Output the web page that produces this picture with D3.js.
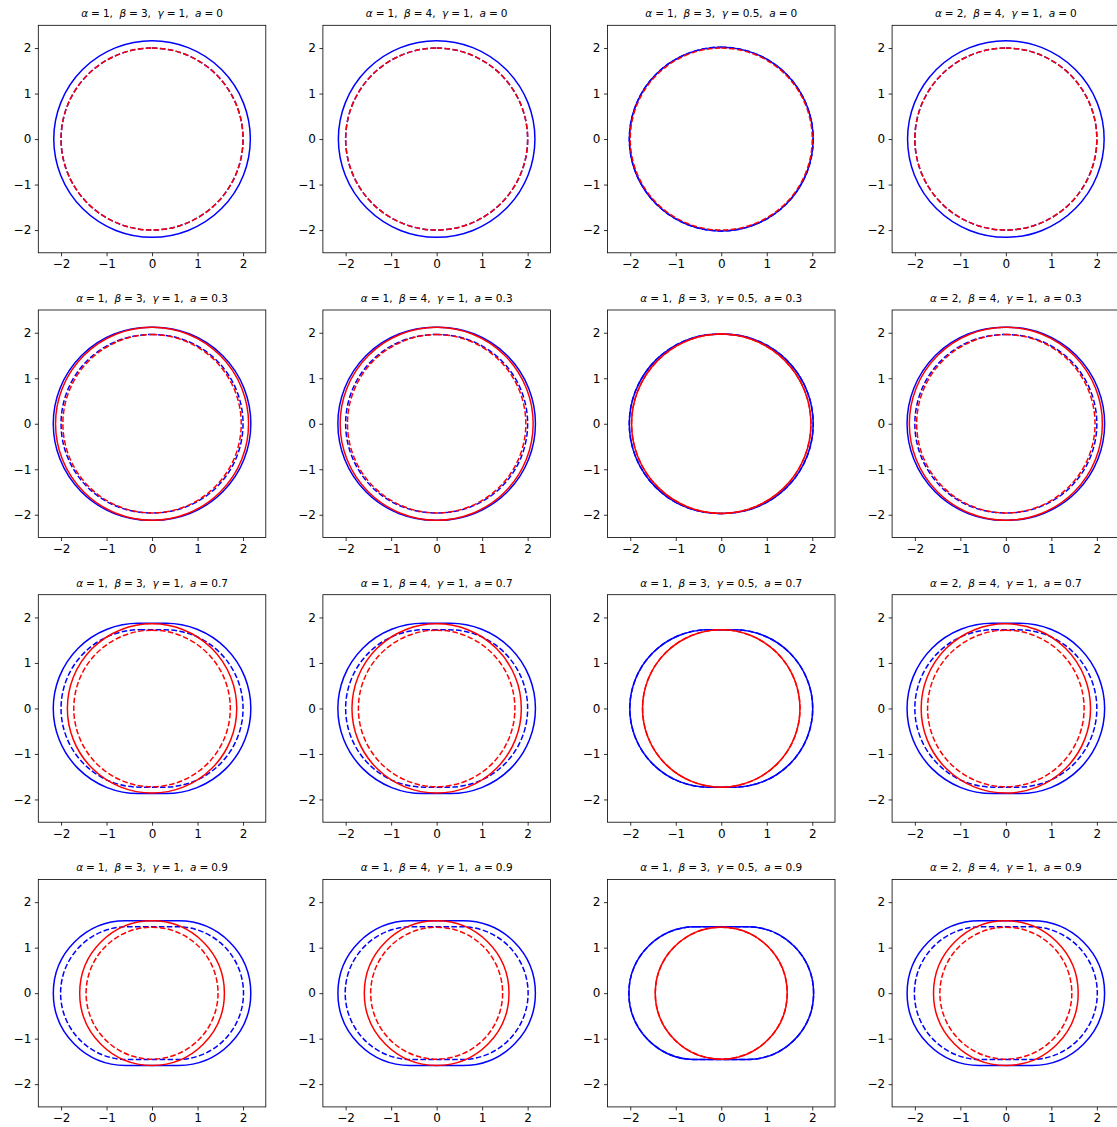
<!DOCTYPE html>
<html>
<head>
<meta charset="utf-8">
<script src="https://cdn.jsdelivr.net/npm/d3@7"></script>
<style>
  body { margin: 0; background: #fff; }
  text { font-family: "DejaVu Sans", sans-serif; }
</style>
</head>
<body>
<svg width="1117" height="1127"></svg>
<script>
// panel parameters (columns) and spin values (rows)
const alphas = ["1", "1", "1", "2"];
const betas = ["3", "4", "3", "4"];
const gammas = ["1", "1", "0.5", "1"];
const spins = ["0", "0.3", "0.7", "0.9"];
const ticks = [-2, -1, 0, 1, 2];
const domain = [-2.5, 2.5];

// curve sizes: radius r and half-length s of the flat top, one per spin row
// gamma = 1 panels
const blueSolidR_g1 = [2.16, 2.12, 1.87, 1.59];
const blueSolidS_g1 = [0, 0.05, 0.30, 0.58];
const blueDashR_g1 = [2.0, 1.96, 1.73, 1.46];
const blueDashS_g1 = [0, 0.04, 0.27, 0.55];
const redSolidR_g1 = [null, 2.12, 1.86, 1.59];
const redDashR_g1 = [2.0, 1.96, 1.72, 1.45];
// gamma = 0.5 panels
const blueSolidR_g05 = [2.02, 1.97, 1.73, 1.46];
const blueSolidS_g05 = [0, 0.05, 0.28, 0.57];
const blueDashR_g05 = [2.02, 1.97, 1.73, 1.46];
const blueDashS_g05 = [0, 0.05, 0.28, 0.57];
const redSolidR_g05 = [null, 1.97, 1.73, 1.45];
const redDashR_g05 = [2.0, 1.97, 1.73, 1.45];

const svg = d3.select('svg');

const left0 = 38.3, top0 = 25.3, size = 227.5, stepX = 284.6, stepY = 284.7;

function stadium(r, s, xs, ys) {
  const p = d3.path();
  const rpx = xs(r) - xs(0);
  p.moveTo(xs(-s), ys(r));
  p.lineTo(xs(s), ys(r));
  p.arc(xs(s), ys(0), rpx, -Math.PI / 2, Math.PI / 2);
  p.lineTo(xs(-s), ys(-r));
  p.arc(xs(-s), ys(0), rpx, Math.PI / 2, 3 * Math.PI / 2);
  p.closePath();
  return p.toString();
}

spins.forEach((a, row) => {
  gammas.forEach((g, col) => {
    const x0 = left0 + col * stepX;
    const y0 = top0 + row * stepY;
    const xs = d3.scaleLinear().domain(domain).range([x0, x0 + size]);
    const ys = d3.scaleLinear().domain(domain).range([y0 + size, y0]);
    const half = g === "0.5";

    const curves = [
      { r: (half ? blueSolidR_g05 : blueSolidR_g1)[row], s: (half ? blueSolidS_g05 : blueSolidS_g1)[row], color: '#0000ff', dash: null },
      { r: (half ? blueDashR_g05 : blueDashR_g1)[row], s: (half ? blueDashS_g05 : blueDashS_g1)[row], color: '#0000ff', dash: '5.55,2.4' },
      { r: (half ? redSolidR_g05 : redSolidR_g1)[row], s: 0, color: '#ff0000', dash: null },
      { r: (half ? redDashR_g05 : redDashR_g1)[row], s: 0, color: '#ff0000', dash: '5.55,2.4' }
    ].filter(c => c.r !== null);

    const gp = svg.append('g');
    const clipId = 'clip' + row + '_' + col;
    gp.append('clipPath').attr('id', clipId)
      .append('rect').attr('x', x0).attr('y', y0).attr('width', size).attr('height', size);

    gp.append('g').attr('clip-path', 'url(#' + clipId + ')')
      .selectAll('path').data(curves).enter().append('path')
      .attr('d', c => stadium(c.r, c.s, xs, ys))
      .attr('fill', 'none')
      .attr('stroke', c => c.color)
      .attr('stroke-width', 1.5)
      .attr('stroke-dasharray', c => c.dash);

    const fmt = d => d < 0 ? '\u2212' + Math.abs(d) : String(d);

    gp.append('g').attr('transform', 'translate(0,' + (y0 + size) + ')')
      .call(d3.axisBottom(xs).tickValues(ticks).tickFormat(fmt).tickSize(3.5).tickPadding(3.5))
      .call(s => s.select('.domain').remove());
    gp.append('g').attr('transform', 'translate(' + x0 + ',0)')
      .call(d3.axisLeft(ys).tickValues(ticks).tickFormat(fmt).tickSize(3.5).tickPadding(3.5))
      .call(s => s.select('.domain').remove());
    gp.selectAll('.tick line').attr('stroke', '#000').attr('stroke-width', 0.8);
    gp.selectAll('.tick text').attr('fill', '#000').style('font-size', '12px')
      .style('font-family', '"DejaVu Sans", sans-serif');

    gp.append('rect').attr('x', x0).attr('y', y0).attr('width', size).attr('height', size)
      .attr('fill', 'none').attr('stroke', '#000').attr('stroke-width', 0.8);

    const t = gp.append('text').attr('x', x0 + size / 2).attr('y', y0 - 8)
      .attr('text-anchor', 'middle').style('font-size', '10.5px').attr('fill', '#000');
    const parts = [['\u03b1', alphas[col]], ['\u03b2', betas[col]], ['\u03b3', g], ['a', a]];
    parts.forEach((p, i) => {
      t.append('tspan').attr('dx', i === 0 ? 0 : 6.5).style('font-style', 'italic').text(p[0]);
      t.append('tspan').attr('dx', 3).text('=');
      t.append('tspan').attr('dx', 3).text(p[1] + (i < parts.length - 1 ? ',' : ''));
    });
  });
});
</script>
</body>
</html>
